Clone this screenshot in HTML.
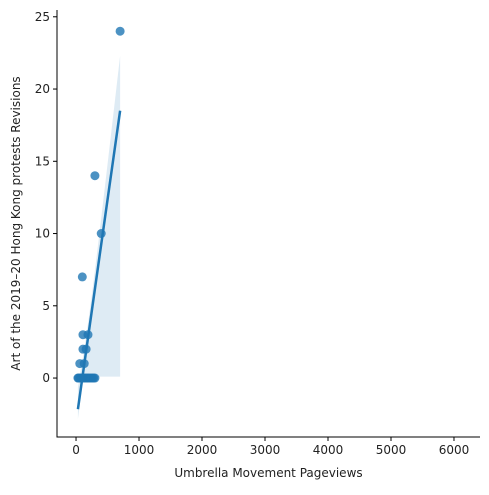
<!DOCTYPE html>
<html><head><meta charset="utf-8"><style>
html,body{margin:0;padding:0;background:#fff;}
svg text{font-family:"DejaVu Sans","Liberation Sans",sans-serif;font-size:12px;fill:#222;}
</style></head><body>
<svg id="chart" width="489" height="490" xmlns="http://www.w3.org/2000/svg"></svg>
<script>
const xVals=[700,300,400,100,110,190,110,160,60,130,30,40,60,80,100,120,140,160,180,200,220,240,260,280,300];
const yVals=[24,14,10,7,3,3,2,2,1,1,0,0,0,0,0,0,0,0,0,0,0,0,0,0,0];
const xTicks=[0,1000,2000,3000,4000,5000,6000];
const yTicks=[0,5,10,15,20,25];
const L=57,R=480,T=10,B=437;
const xMin=-302,xMax=6413,yMin=-4.08,yMax=25.47;
const sx=v=>L+(v-xMin)/(xMax-xMin)*(R-L);
const sy=v=>B-(v-yMin)/(yMax-yMin)*(B-T);
const svg=document.getElementById('chart');
const NS='http://www.w3.org/2000/svg';
function mk(t,a,p){const e=document.createElementNS(NS,t);for(const k in a)e.setAttribute(k,a[k]);(p||svg).appendChild(e);return e;}
const n=xVals.length;
const mx=xVals.reduce((a,b)=>a+b)/n,my=yVals.reduce((a,b)=>a+b)/n;
let sxx=0,sxy=0;for(let i=0;i<n;i++){sxx+=(xVals[i]-mx)**2;sxy+=(xVals[i]-mx)*(yVals[i]-my);}
const slope=sxy/sxx,icpt=my-slope*mx;
let sse=0;for(let i=0;i<n;i++)sse+=(yVals[i]-icpt-slope*xVals[i])**2;
const se=Math.sqrt(sse/(n-2));
const x0=Math.min(...xVals),x1=Math.max(...xVals);
let up=[],lo=[];
for(let k=0;k<=40;k++){const x=x0+(x1-x0)*k/40;const y=icpt+slope*x;const h=2.07*se*Math.sqrt(1/n+(x-mx)**2/sxx);
const u=y+0.65*h;const l=Math.min(y-0.3*h,0.1);
up.push(sx(x)+','+sy(u));lo.unshift(sx(x)+','+sy(l));}
const band=mk('polygon',{points:up.concat(lo).join(' '),fill:'#1f77b4','fill-opacity':0.15});


for(let i=0;i<n;i++){const c=mk('circle',{cx:sx(xVals[i]),cy:sy(yVals[i]),r:4.5,fill:'#1f77b4','fill-opacity':0.8});

}
const ln=mk('line',{x1:sx(x0),y1:sy(icpt+slope*x0),x2:sx(x1),y2:sy(icpt+slope*x1),stroke:'#1f77b4','stroke-width':2.5});


const ax=mk('path',{d:`M${L},${T}V${B}H${R}`,fill:'none',stroke:'#000','stroke-width':1});


xTicks.forEach(t=>{const x=sx(t);mk('line',{x1:x,y1:B,x2:x,y2:B+4,stroke:'#000'});
const tx=mk('text',{x:x,y:B+17,'text-anchor':'middle'});tx.textContent=t;

});
yTicks.forEach(t=>{const y=sy(t);mk('line',{x1:L-4,y1:y,x2:L,y2:y,stroke:'#000'});
const tx=mk('text',{x:L-7,y:y+4,'text-anchor':'end'});tx.textContent=t;

});
const xt=mk('text',{x:(L+R)/2,y:477,'text-anchor':'middle'});xt.textContent='Umbrella Movement Pageviews';


const yt=mk('text',{x:0,y:0,'text-anchor':'middle',transform:`translate(20,${(T+B)/2}) rotate(-90)`});yt.textContent='Art of the 2019–20 Hong Kong protests Revisions';


</script>
</body></html>
